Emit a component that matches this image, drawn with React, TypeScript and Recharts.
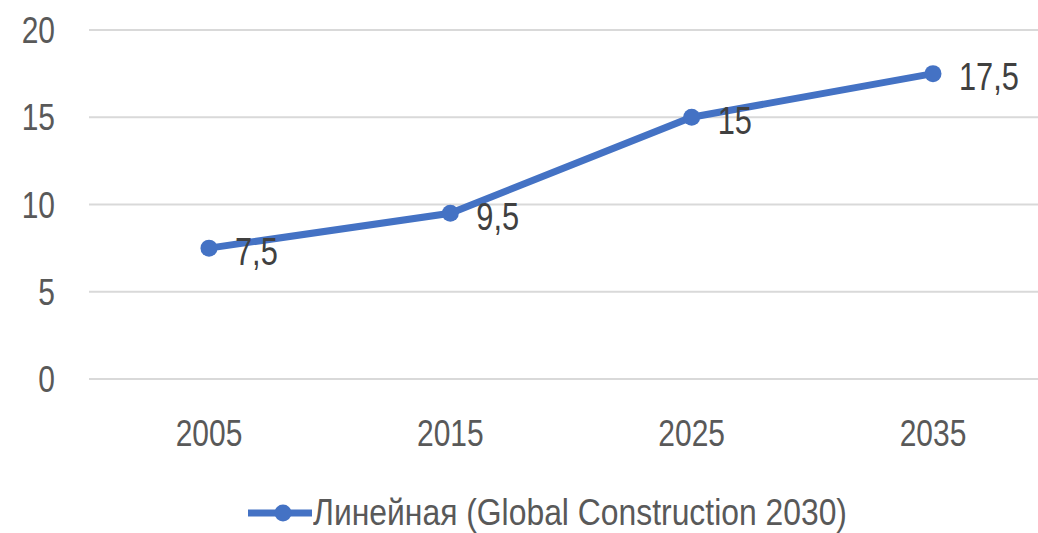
import React from 'react';
import { LineChart, Line, XAxis, YAxis, CartesianGrid, Legend, LabelList } from 'recharts';

const years = ['2005', '2015', '2025', '2035'];
const values = [7.5, 9.5, 15, 17.5];
const yTicks = [0, 5, 10, 15, 20];
const seriesName = 'Линейная (Global Construction 2030)';

const data = years.map((year, i) => ({ year, value: values[i] }));

const FONT = '"Liberation Sans", Arial, sans-serif';
const BLUE = '#4472C4';
const SX = 0.81; // the original text is narrow, squeeze it horizontally

function NarrowText({ x, y, anchor, dy, size, fill, children }: any) {
  return (
    <g transform={`translate(${x},${y}) scale(${SX},1)`}>
      <text x={0} y={0} dy={dy} textAnchor={anchor} fontSize={size} fill={fill} fontFamily={FONT}>
        {children}
      </text>
    </g>
  );
}

const XTick = (props: any) => (
  <NarrowText x={props.x} y={props.y} anchor="middle" dy="0.71em" size={37} fill="#595959">
    {props.payload.value}
  </NarrowText>
);

const YTick = (props: any) => (
  <NarrowText x={props.x} y={props.y} anchor="end" dy="0.355em" size={37} fill="#595959">
    {props.payload.value}
  </NarrowText>
);

const PointLabel = (props: any) => (
  <NarrowText x={props.x + 26} y={props.y + 3} anchor="start" dy="0.355em" size={38} fill="#404040">
    {String(props.value).replace('.', ',')}
  </NarrowText>
);

function LegendContent() {
  return (
    <div style={{ display: 'flex', alignItems: 'center', height: 40, paddingLeft: 248, fontFamily: FONT }}>
      <svg width={64} height={20} style={{ marginRight: 1, flex: 'none' }}>
        <line x1={0} y1={10} x2={64} y2={10} stroke={BLUE} strokeWidth={7} />
        <circle cx={35} cy={10} r={8.5} fill={BLUE} />
      </svg>
      <span
        style={{
          fontSize: 36,
          color: '#595959',
          whiteSpace: 'nowrap',
          display: 'inline-block',
          transform: 'scaleX(0.885)',
          transformOrigin: 'left center',
        }}
      >
        {seriesName}
      </span>
    </div>
  );
}

export default function App() {
  return (
    <div style={{ position: 'absolute', left: 0, top: 0, width: 1038, height: 533, overflow: 'hidden', background: '#fff' }}>
      <LineChart width={1053} height={533} data={data} margin={{ top: 30, right: 0, bottom: 0, left: 0 }}>
        <CartesianGrid vertical={false} stroke="#D9D9D9" strokeWidth={2} />
        <XAxis
          dataKey="year"
          axisLine={false}
          tickLine={false}
          height={114}
          tickMargin={35}
          padding={{ left: 120, right: 120 }}
          tick={<XTick />}
        />
        <YAxis
          domain={[0, 20]}
          ticks={yTicks}
          axisLine={false}
          tickLine={false}
          width={89}
          tickMargin={28}
          tick={<YTick />}
        />
        <Legend verticalAlign="bottom" height={40} content={<LegendContent />} />
        <Line
          type="linear"
          dataKey="value"
          name={seriesName}
          stroke={BLUE}
          strokeWidth={7}
          dot={{ r: 8.5, fill: BLUE, stroke: BLUE, strokeWidth: 0 }}
          activeDot={false}
          isAnimationActive={false}
        >
          <LabelList dataKey="value" content={<PointLabel />} />
        </Line>
      </LineChart>
    </div>
  );
}
